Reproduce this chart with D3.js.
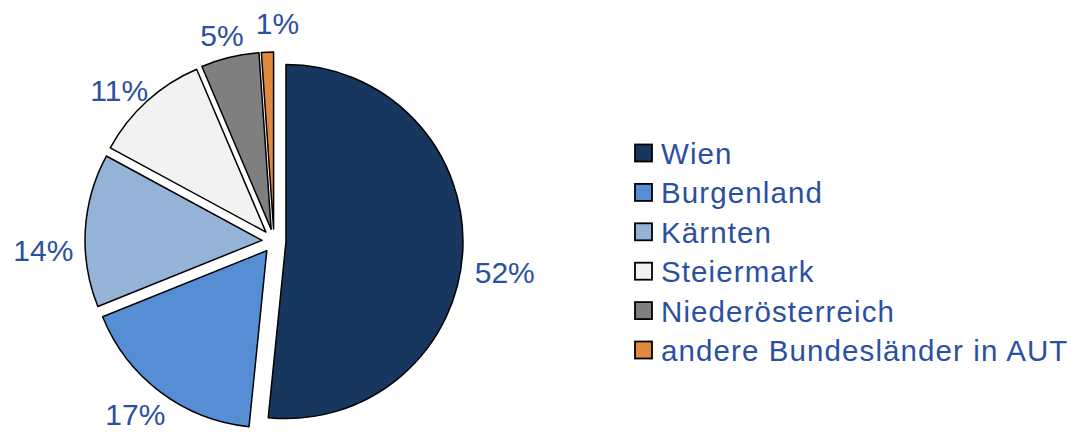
<!DOCTYPE html>
<html>
<head>
<meta charset="utf-8">
<script src="https://cdn.jsdelivr.net/npm/d3@7"></script>
<style>
  html, body { margin: 0; padding: 0; background: #fff; }
  svg { display: block; }
  text { font-family: "Liberation Sans", Arial, sans-serif; }
</style>
</head>
<body>
<svg id="chart" width="1076" height="432"></svg>
<script>
// ---- data ----
const categories = ["Wien", "Burgenland", "Kärnten", "Steiermark", "Niederösterreich", "andere Bundesländer in AUT"];
const shares = [51.6, 17.3, 14.0, 10.7, 5.3, 1.1];
const colors = ["#17375e", "#558ed5", "#95b3d7", "#f2f2f2", "#7f7f7f", "#e0893f"];

// ---- layout ----
const W = 1076, H = 432;
const cx = 274, cy = 241, R = 177, explode = 12;
const textColor = "#2b50a2";
const labelSize = 30;
const legendSize = 29.5;

const svg = d3.select("#chart");
const data = categories.map((c, i) => ({ name: c, value: shares[i], color: colors[i] }));

const pie = d3.pie().sort(null).value(d => d.value).startAngle(0).endAngle(2 * Math.PI);
const arcs = pie(data);
const arc = d3.arc().innerRadius(0).outerRadius(R);

const g = svg.append("g").attr("transform", `translate(${cx},${cy})`);

arcs.forEach(a => {
  const mid = (a.startAngle + a.endAngle) / 2;
  a.dir = [Math.sin(mid), -Math.cos(mid)];
});

g.selectAll("path.slice")
  .data(arcs)
  .join("path")
  .attr("class", "slice")
  .attr("d", arc)
  .attr("transform", d => `translate(${d.dir[0] * explode},${d.dir[1] * explode})`)
  .attr("fill", d => d.data.color)
  .attr("stroke", "#000")
  .attr("stroke-width", 1.5)
  .attr("stroke-linejoin", "round");

// ---- labels (outside end) ----
const gap = 12;
const digitH = labelSize * 0.716;
const labels = g.selectAll("text.lbl")
  .data(arcs)
  .join("text")
  .attr("class", "lbl")
  .attr("font-size", labelSize)
  .attr("fill", textColor)
  .attr("text-anchor", "middle")
  .text(d => Math.round(d.data.value) + "%");

const boxes = [];
labels.each(function(d, i) {
  const w = this.getComputedTextLength();
  const rr = explode + R + gap;
  const px = d.dir[0] * rr, py = d.dir[1] * rr;
  let ccx = px + d.dir[0] * w / 2;
  let ccy = py + d.dir[1] * digitH / 2 + 22 * (1 - Math.abs(d.dir[1]));
  // simple collision avoidance with previous label
  if (i > 0) {
    const p = boxes[i - 1];
    const minGap = 12;
    const vOverlap = Math.abs(ccy - p.y) < digitH + 4;
    if (vOverlap && ccx - w / 2 < p.x + p.w / 2 + minGap && ccx > p.x) {
      ccx = p.x + p.w / 2 + minGap + w / 2;
      ccy -= 6;
    }
  }
  boxes.push({ x: ccx, y: ccy, w });
  d3.select(this).attr("x", ccx).attr("y", ccy + digitH / 2);
});

// ---- legend ----
const legX = 635, legY0 = 164, legStep = 39.4, sw = 17;
const leg = svg.append("g");
const rows = leg.selectAll("g.row").data(data).join("g").attr("class", "row")
  .attr("transform", (d, i) => `translate(${legX},${legY0 + i * legStep})`);
rows.append("rect")
  .attr("x", 0).attr("y", -19.5)
  .attr("width", sw).attr("height", sw)
  .attr("fill", d => d.color)
  .attr("stroke", "#000").attr("stroke-width", 1.8);
rows.append("text")
  .attr("x", 26).attr("y", 0)
  .attr("font-size", legendSize)
  .attr("letter-spacing", "1.1px")
  .attr("fill", textColor)
  .text(d => d.name);
</script>
</body>
</html>
